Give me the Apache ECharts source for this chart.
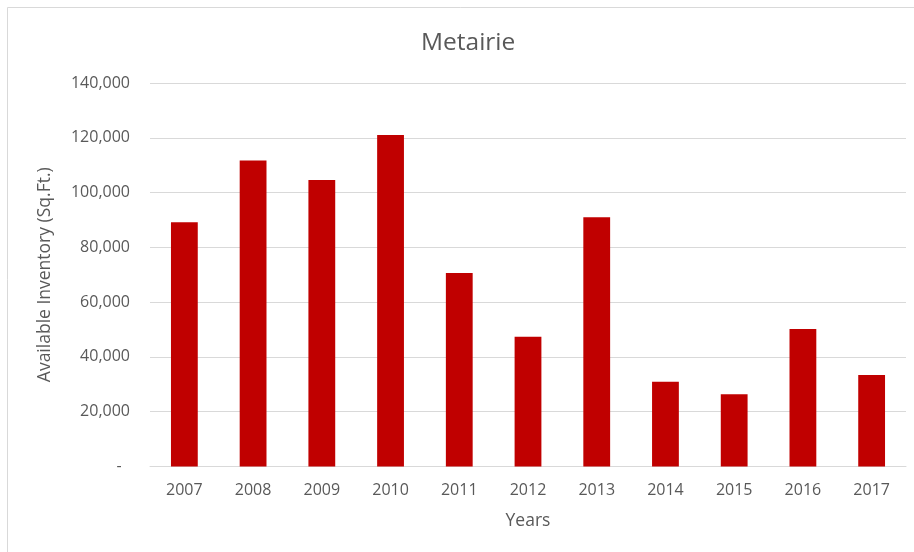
<!DOCTYPE html>
<html>
<head>
<meta charset="utf-8">
<script src="https://cdn.jsdelivr.net/npm/echarts@6/dist/echarts.min.js"></script>
<style>
  html, body { margin: 0; padding: 0; background: #fff; }
  #chart { width: 914px; height: 552px; }
</style>
</head>
<body>
<div id="chart"></div>
<script>
// data
const years = ['2007', '2008', '2009', '2010', '2011', '2012', '2013', '2014', '2015', '2016', '2017'];
const inventory = [89200, 111700, 104600, 121000, 70600, 47400, 91000, 30900, 26400, 50200, 33400];

const textColor = '#595959';
const fontName = 'Open Sans';

var myChart = echarts.init(document.getElementById('chart'));

var option = {
    backgroundColor: '#fff',
    animation: false,
    title: {
        text: 'Metairie',
        left: 416,
        top: 26,
        textStyle: { fontFamily: fontName, fontSize: 24.5, fontWeight: 'normal', color: textColor }
    },
    graphic: [
        // chart frame (only top and left edges visible in the reference)
        { type: 'line', shape: { x1: 7.5, y1: 7.5, x2: 914, y2: 7.5 }, style: { stroke: '#d9d9d9', lineWidth: 1 } },
        { type: 'line', shape: { x1: 7.5, y1: 7.5, x2: 7.5, y2: 552 }, style: { stroke: '#d9d9d9', lineWidth: 1 } }
    ],
    grid: {
        left: 150,
        right: 8,
        top: 83,
        bottom: 85.5,
        containLabel: false
    },
    xAxis: {
        type: 'category',
        data: years,
        name: 'Years',
        nameLocation: 'middle',
        nameGap: 46,
        nameTextStyle: { fontFamily: fontName, fontSize: 17.5, color: textColor },
        axisLine: { lineStyle: { color: '#d9d9d9', width: 1 } },
        axisTick: { show: false },
        axisLabel: { fontFamily: fontName, fontSize: 16, color: textColor, margin: 16 }
    },
    yAxis: {
        type: 'value',
        min: 0,
        max: 140000,
        interval: 20000,
        name: 'Available Inventory (Sq.Ft.)',
        nameLocation: 'middle',
        nameGap: 96,
        nameRotate: 90,
        nameTextStyle: { fontFamily: fontName, fontSize: 17.5, color: textColor },
        axisLine: { show: false },
        axisTick: { show: false },
        splitLine: { lineStyle: { color: '#d9d9d9', width: 1 } },
        axisLabel: {
            fontFamily: fontName,
            fontSize: 16,
            color: textColor,
            margin: 20,
            formatter: function (v) {
                return v === 0 ? '-  ' : v.toLocaleString('en-US');
            }
        }
    },
    series: [
        {
            type: 'bar',
            data: inventory,
            barWidth: '39%',
            itemStyle: { color: '#c00000' }
        }
    ]
};

myChart.setOption(option);
</script>
</body>
</html>
